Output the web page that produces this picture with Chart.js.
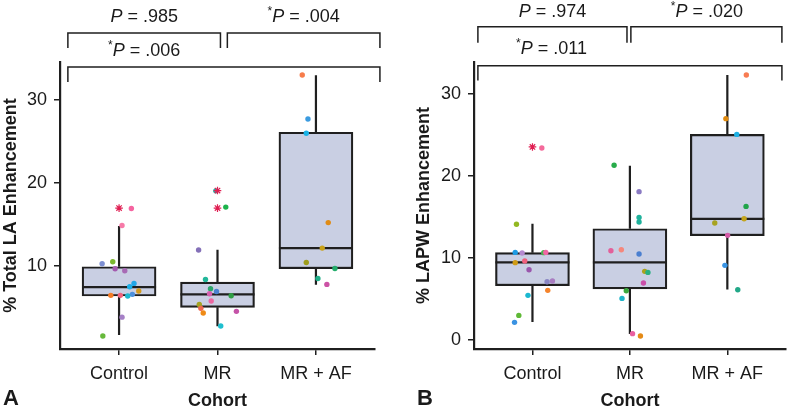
<!DOCTYPE html>
<html>
<head>
<meta charset="utf-8">
<script src="https://cdn.jsdelivr.net/npm/chart.js@4.4.1/dist/chart.umd.min.js"></script>
<style>
  body { margin: 0; background: #fff; }
  #wrap { position: relative; width: 791px; height: 416px; }
  canvas { position: absolute; top: 0; }
</style>
</head>
<body>
<div id="wrap">
  <canvas id="chartA" width="400" height="416" style="left:0"></canvas>
  <canvas id="chartB" width="391" height="416" style="left:400px"></canvas>
</div>
<script>
const cohorts = ['Control', 'MR', 'MR + AF'];

// Panel A: % Total LA Enhancement
const aTicks = [10, 20, 30];
const aQ1 = [6.35, 4.98, 9.64];
const aMedian = [7.42, 6.55, 12.13];
const aQ3 = [9.88, 8.03, 26.1];
const aLow = [1.65, 2.69, 7.71];
const aHigh = [14.8, 11.93, 32.97];
const aControlY = [16.9, 14.86, 10.24, 10.48, 9.64, 9.4, 7.87, 7.47, 6.95, 6.55, 6.35, 6.43, 6.43, 3.8, 1.53];
const aControlJit = [0.125, 0.03, -0.172, -0.064, -0.04, 0.058, 0.152, 0.108, 0.2, 0.135, 0.088, -0.084, 0.013, 0.03, -0.165];
const aMrY = [19.03, 17.07, 11.89, 8.35, 7.23, 6.63, 6.9, 6.39, 5.74, 5.34, 4.86, 4.3, 4.5, 2.73];
const aMrJit = [-0.017, 0.084, -0.192, -0.122, -0.071, -0.081, -0.01, 0.139, -0.064, -0.185, -0.169, -0.145, 0.192, 0.033];
const aAfY = [33.0, 27.7, 25.98, 15.2, 12.13, 10.4, 9.67, 8.47, 7.75];
const aAfJit = [-0.139, -0.081, -0.098, 0.125, 0.064, -0.098, 0.193, 0.02, 0.111];
const aOutliers = [[16.95], [19.07, 16.95], []];

// Panel B: % LAPW Enhancement
const bTicks = [0, 10, 20, 30];
const bQ1 = [6.62, 6.22, 12.72];
const bMedian = [9.46, 9.46, 14.76];
const bQ3 = [10.65, 13.57, 25.07];
const bLow = [2.2, 0.73, 6.17];
const bHigh = [14.18, 21.26, 32.3];
const bControlY = [23.41, 14.11, 10.68, 10.6, 10.65, 10.68, 9.63, 9.43, 8.57, 7.11, 7.19, 6.05, 5.44, 3.0, 2.15];
const bControlJit = [0.096, -0.164, -0.177, -0.106, 0.116, 0.137, -0.079, -0.177, -0.035, 0.15, 0.205, 0.157, -0.046, -0.14, -0.184];
const bMrY = [21.3, 18.09, 14.95, 14.39, 10.89, 11.01, 10.49, 8.37, 8.24, 6.95, 6.01, 5.07, 0.77, 0.49];
const bMrJit = [-0.162, 0.094, 0.094, 0.094, -0.195, -0.088, 0.094, 0.152, 0.185, 0.139, -0.037, -0.081, 0.027, 0.108];
const bAfY = [32.32, 26.99, 25.07, 16.29, 14.79, 14.27, 12.76, 9.1, 6.13];
const bAfJit = [0.195, -0.015, 0.097, 0.192, 0.172, -0.129, 0.003, -0.025, 0.107];
const bOutliers = [[23.54], [], []];

// point colours (one per subject)
const aColors = [
  ['#f564a0', '#f77aa8', '#7d8fd2', '#7cb82f', '#a45aae', '#a86bb5', '#22a7e8', '#1aaee6', '#d49a1b', '#4d8fdc', '#1eb8d0', '#f57c26', '#f0627c', '#a580c6', '#67b93b'],
  ['#1fb5a6', '#1db34c', '#8470b8', '#22b79a', '#2ba66b', '#d45fae', '#4a82d0', '#2f9f45', '#ec68a2', '#a4a221', '#f0684f', '#ef8a16', '#c553a8', '#1fbfcf'],
  ['#f77c4a', '#3b9be0', '#1ab3e6', '#e08c16', '#c9a21a', '#9e9d1c', '#23ad6c', '#20ae88', '#cc52a5']
];
const bColors = [
  ['#f46a9b', '#93b821', '#1c9be4', '#b58ad0', '#4cb34f', '#f166a3', '#f0607e', '#cf9b16', '#9a56ac', '#8a87c4', '#a87dc1', '#f5842c', '#1bb8d0', '#5fb936', '#3b93e2'],
  ['#27ac4a', '#8a7ac3', '#1fb29c', '#1fb29c', '#e3609a', '#f5877c', '#4a7fd0', '#aaa21c', '#27b080', '#c94ea8', '#3ba83e', '#1fb4c8', '#e85fa0', '#e48a16'],
  ['#f87c52', '#df8a10', '#1eb0e3', '#20a44a', '#c3a41c', '#a7a321', '#d45aa8', '#3994e4', '#22a888']
];

const ink = '#1f1f1f';
const FONT = "'Liberation Sans', Arial, Helvetica, sans-serif";

// whiskers under the boxes, medians on top of them
const boxLines = {
  id: 'boxLines',
  beforeDatasetsDraw(chart, args, opts) {
    const ctx = chart.ctx, y = chart.scales.y;
    const bars = chart.getDatasetMeta(0).data;
    ctx.save();
    ctx.strokeStyle = ink;
    ctx.lineWidth = 2.2;
    bars.forEach((bar, g) => {
      ctx.beginPath();
      ctx.moveTo(bar.x, y.getPixelForValue(opts.q3[g]));
      ctx.lineTo(bar.x, y.getPixelForValue(opts.high[g]));
      ctx.moveTo(bar.x, y.getPixelForValue(opts.low[g]));
      ctx.lineTo(bar.x, y.getPixelForValue(opts.q1[g]));
      ctx.stroke();
    });
    ctx.restore();
  },
  afterDatasetDraw(chart, args, opts) {
    if (args.index !== 0) return;
    const ctx = chart.ctx, y = chart.scales.y;
    ctx.save();
    ctx.strokeStyle = ink;
    ctx.lineWidth = 2.2;
    args.meta.data.forEach((bar, g) => {
      const py = y.getPixelForValue(opts.median[g]);
      ctx.beginPath();
      ctx.moveTo(bar.x - bar.width / 2, py);
      ctx.lineTo(bar.x + bar.width / 2, py);
      ctx.stroke();
    });
    ctx.restore();
  }
};

// significance brackets and P labels above the panel
const brackets = {
  id: 'brackets',
  afterDraw(chart, args, opts) {
    const ctx = chart.ctx, x = chart.scales.x, y = chart.scales.y;
    ctx.save();
    ctx.strokeStyle = ink;
    ctx.lineWidth = 1.5;
    opts.lines.forEach(b => {
      const x1 = x.getPixelForValue(b.from), x2 = x.getPixelForValue(b.to);
      const yt = y.getPixelForValue(b.top), yl = y.getPixelForValue(b.leg);
      ctx.beginPath();
      ctx.moveTo(x1, yl); ctx.lineTo(x1, yt); ctx.lineTo(x2, yt); ctx.lineTo(x2, yl);
      ctx.stroke();
    });
    ctx.fillStyle = '#1a1a1a';
    ctx.textBaseline = 'middle';
    ctx.textAlign = 'left';
    opts.labels.forEach(l => {
      const parts = [];
      if (l.star) parts.push({ t: '*', f: '12px ' + FONT, dy: -5 });
      parts.push({ t: 'P', f: 'italic 18px ' + FONT, dy: 0 });
      parts.push({ t: ' = ' + l.p, f: '18px ' + FONT, dy: 0 });
      let w = 0;
      parts.forEach(p => { ctx.font = p.f; p.w = ctx.measureText(p.t).width; w += p.w; });
      let px = x.getPixelForValue(l.x) - w / 2;
      const py = y.getPixelForValue(l.y);
      parts.forEach(p => { ctx.font = p.f; ctx.fillText(p.t, px, py + p.dy); px += p.w; });
    });
    ctx.restore();
  }
};

function makePanel(id, p) {
  const pts = [], cols = [];
  p.values.forEach((vals, g) => vals.forEach((v, k) => {
    pts.push({ x: g + 1 + p.jitter[g][k], y: v });
    cols.push(p.colors[g][k]);
  }));
  const stars = [];
  p.outliers.forEach((vals, g) => vals.forEach(v => stars.push({ x: g + 1, y: v })));
  const boxes = cohorts.map((c, g) => ({ x: g + 1, y: [p.q1[g], p.q3[g]] }));

  return new Chart(document.getElementById(id), {
    type: 'scatter',
    data: {
      datasets: [
        {
          type: 'bar',
          data: boxes,
          backgroundColor: '#c9cfe3',
          borderColor: ink,
          borderWidth: 2.2,
          borderSkipped: false,
          barThickness: 74,
          order: 3
        },
        {
          data: pts,
          pointBackgroundColor: cols,
          pointBorderWidth: 0,
          pointRadius: 2.7,
          order: 1
        },
        {
          data: stars,
          pointStyle: 'star',
          pointRadius: 3.8,
          pointBorderColor: '#e01e52',
          pointBorderWidth: 1.2,
          order: 0
        }
      ]
    },
    options: {
      responsive: false,
      animation: false,
      layout: { padding: { top: 62, right: p.padRight, left: 0, bottom: 0 } },
      plugins: {
        legend: { display: false },
        tooltip: { enabled: false },
        boxLines: { q1: p.q1, median: p.median, q3: p.q3, low: p.low, high: p.high },
        brackets: { lines: p.bracketLines, labels: p.bracketLabels }
      },
      scales: {
        x: {
          type: 'linear',
          min: 0.4,
          max: 3.6,
          offset: false,
          afterBuildTicks: s => { s.ticks = [1, 2, 3].map(v => ({ value: v })); },
          afterFit: s => { s.height = 67; },
          grid: { offset: false, drawOnChartArea: false, drawTicks: true, tickLength: 6, color: ink, lineWidth: 1.5 },
          border: { display: true, color: ink, width: 2.2 },
          ticks: {
            autoSkip: false, maxRotation: 0, padding: 8, color: '#1a1a1a',
            font: { family: FONT, size: 18 },
            callback: v => cohorts[Math.round(v) - 1]
          },
          title: {
            display: true, text: 'Cohort', color: '#1a1a1a',
            font: { family: FONT, size: 18, weight: 'bold' },
            padding: { top: 0, bottom: 4 }
          }
        },
        y: {
          min: p.yMin,
          max: p.yMax,
          afterBuildTicks: s => { s.ticks = p.ticks.map(v => ({ value: v })); },
          afterFit: s => { s.width = p.yWidth; },
          grid: { drawOnChartArea: false, drawTicks: true, tickLength: 6, color: ink, lineWidth: 1.5 },
          border: { display: true, color: ink, width: 2.2 },
          ticks: { padding: 7, color: '#1a1a1a', font: { family: FONT, size: 18 } },
          title: {
            display: true, text: p.yTitle, color: '#1a1a1a',
            font: { family: FONT, size: 18, weight: 'bold' },
            padding: { top: p.titlePad, bottom: 0 }
          }
        }
      }
    },
    plugins: [boxLines, brackets, {
      id: 'panelLetter',
      afterDraw(chart) {
        const ctx = chart.ctx;
        ctx.save();
        ctx.font = 'bold 22px ' + FONT;
        ctx.fillStyle = '#1a1a1a';
        ctx.textBaseline = 'middle';
        ctx.fillText(p.letter, p.letterX, 399);
        ctx.restore();
      }
    }]
  });
}

makePanel('chartA', {
  letter: 'A', letterX: 3,
  yTitle: '% Total LA Enhancement', yWidth: 60, titlePad: 0, padRight: 25,
  yMin: -0.04, yMax: 34.57, ticks: aTicks,
  q1: aQ1, median: aMedian, q3: aQ3, low: aLow, high: aHigh,
  values: [aControlY, aMrY, aAfY],
  jitter: [aControlJit, aMrJit, aAfJit],
  colors: aColors,
  outliers: aOutliers,
  bracketLines: [
    { from: 0.48, to: 2.03, top: 38.08, leg: 36.27 },
    { from: 2.10, to: 3.65, top: 38.08, leg: 36.27 },
    { from: 0.48, to: 3.65, top: 33.96, leg: 32.17 }
  ],
  bracketLabels: [
    { x: 1.255, y: 40.0, p: '.985', star: false },
    { x: 2.875, y: 40.0, p: '.004', star: true },
    { x: 1.255, y: 35.9, p: '.006', star: true }
  ]
});

makePanel('chartB', {
  letter: 'B', letterX: 17,
  yTitle: '% LAPW Enhancement', yWidth: 74, titlePad: 13, padRight: 1,
  yMin: -1.1, yMax: 33.9, ticks: bTicks,
  q1: bQ1, median: bMedian, q3: bQ3, low: bLow, high: bHigh,
  values: [bControlY, bMrY, bAfY],
  jitter: [bControlJit, bMrJit, bAfJit],
  colors: bColors,
  outliers: bOutliers,
  bracketLines: [
    { from: 0.44, to: 1.97, top: 38.2, leg: 36.25 },
    { from: 2.01, to: 3.56, top: 38.2, leg: 36.25 },
    { from: 0.44, to: 3.56, top: 33.45, leg: 31.63 }
  ],
  bracketLabels: [
    { x: 1.205, y: 40.0, p: '.974', star: false },
    { x: 2.79, y: 40.0, p: '.020', star: true },
    { x: 1.195, y: 35.5, p: '.011', star: true }
  ]
});
</script>
</body>
</html>
